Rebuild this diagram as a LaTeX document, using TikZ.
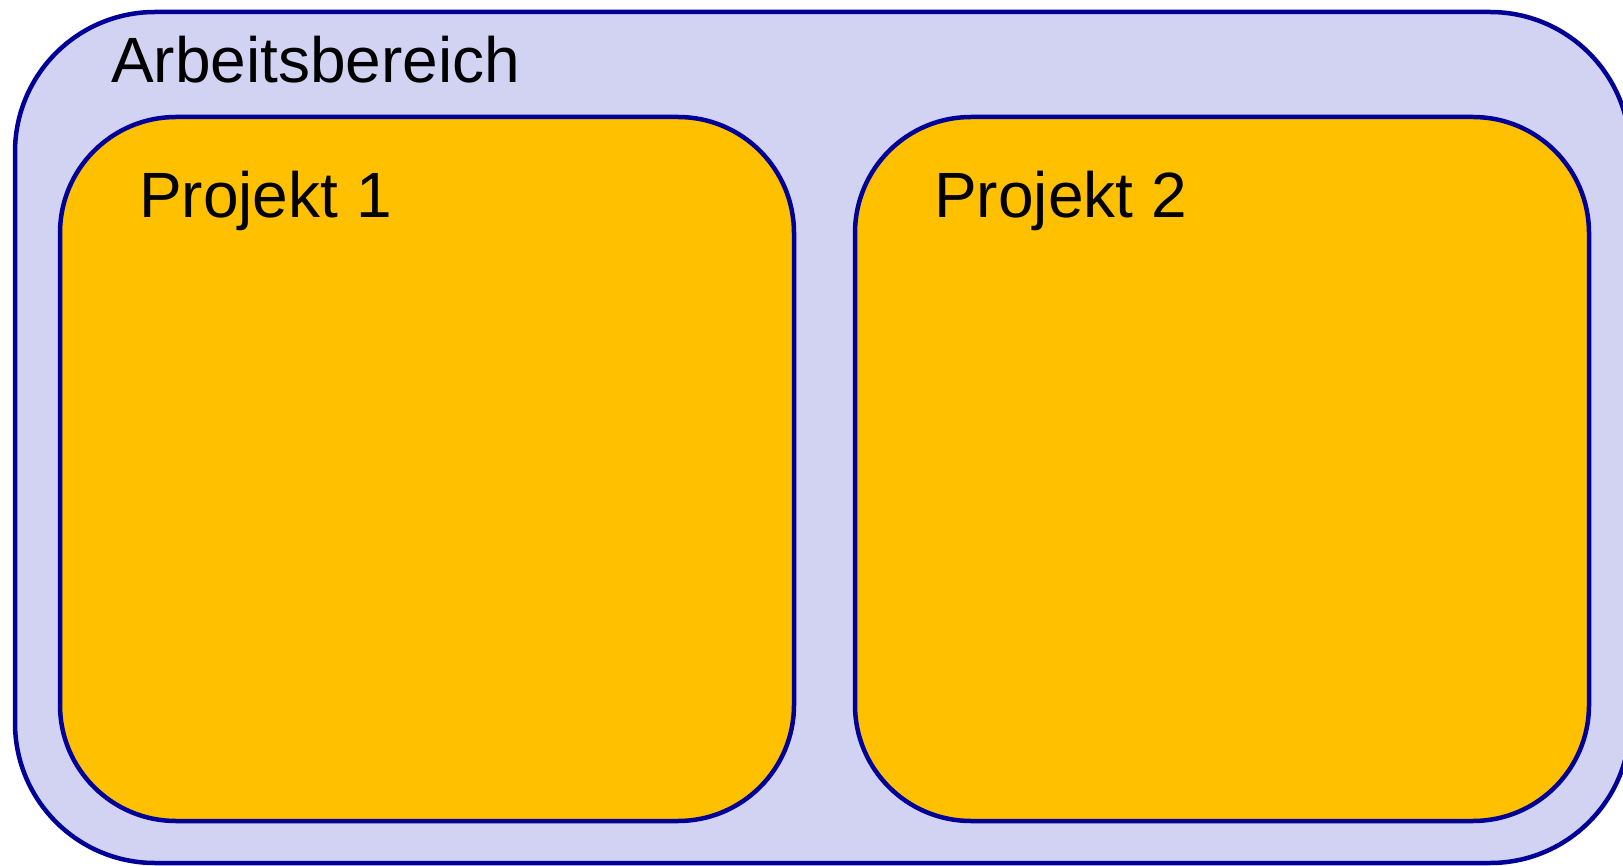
\documentclass[tikz,border=0pt]{standalone}
\usepackage{fontspec}
\setmainfont{Liberation Sans}
\definecolor{lav}{RGB}{210,210,242}
\definecolor{dblue}{RGB}{0,0,153}
\definecolor{gold}{RGB}{255,192,0}
\begin{document}
\begin{tikzpicture}[x=1pt,y=-1pt,
  box/.style={draw=dblue,line width=4.5pt,rectangle,inner sep=0pt,outer sep=0pt},
  lbl/.style={anchor=base west,inner sep=0pt,font=\fontsize{64}{77}\selectfont}]
\useasboundingbox (0,0) rectangle (1623,866);
\clip (0,0) rectangle (1623,866);
\node[box,fill=lav,rounded corners=140pt,minimum width=1615pt,minimum height=851pt] (ws) at (822.5,437.5) {};
\node[box,fill=gold,rounded corners=116pt,minimum width=734pt,minimum height=704pt] (p1) at (427,469) {};
\node[box,fill=gold,rounded corners=116pt,minimum width=734pt,minimum height=704pt] (p2) at (1222,469) {};
\node[lbl] (tws) at (111,83) {Arbeitsbereich};
\node[lbl] (tp1) at (139,218) {Projekt 1};
\node[lbl] (tp2) at (934,218) {Projekt 2};
\end{tikzpicture}
\end{document}
